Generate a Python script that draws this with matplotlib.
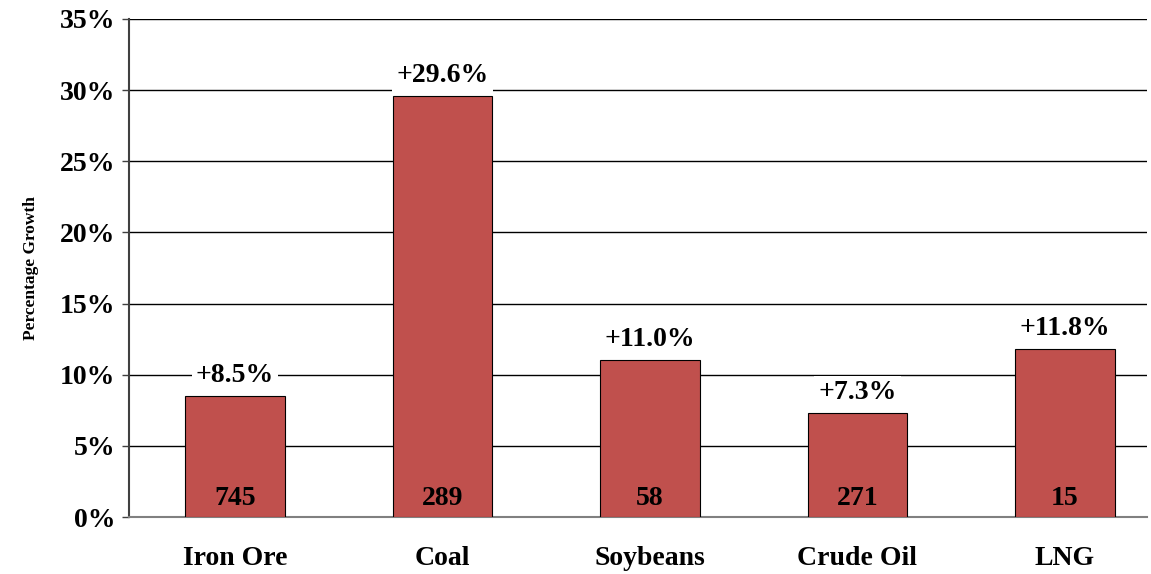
import matplotlib
matplotlib.use('Agg')
import matplotlib.pyplot as plt
from matplotlib.ticker import FuncFormatter

plt.rcParams['font.family'] = ['Liberation Serif', 'DejaVu Serif']
plt.rcParams['font.weight'] = 'bold'

# commodities, growth (%) and volumes shown inside the bars
commodities = ['Iron Ore', 'Coal', 'Soybeans', 'Crude Oil', 'LNG']
growth = [8.5, 29.6, 11.0, 7.3, 11.8]
volumes = [745, 289, 58, 271, 15]

fig = plt.figure(figsize=(11.51, 5.74), dpi=100)
ax = fig.add_axes([0.1121, 0.0993, 0.8844, 0.8676])

x = list(range(len(commodities)))
bars = ax.bar(x, growth, width=0.48, color='#C0504D', edgecolor='black',
              linewidth=0.8, zorder=3)

ax.set_xlim(-0.51, 4.395)
ax.set_ylim(0, 35)
ax.set_yticks(range(0, 36, 5))
ax.yaxis.set_major_formatter(FuncFormatter(lambda v, p: f'{v:.0f}%'))
ax.grid(axis='y', color='black', linewidth=1.0, zorder=0)

for side in ['top', 'right']:
    ax.spines[side].set_visible(False)
ax.spines['left'].set_color('#404040')
ax.spines['left'].set_linewidth(1.5)
ax.spines['bottom'].set_color('#808080')
ax.spines['bottom'].set_linewidth(1.5)

ax.tick_params(axis='y', length=5, width=1, color='#404040', labelsize=20, pad=5)
ax.tick_params(axis='x', length=0, labelsize=20, pad=21)
ax.set_xticks(x)
ax.set_xticklabels(commodities, fontweight='bold')
for lab in ax.get_yticklabels():
    lab.set_fontweight('bold')

ax.set_ylabel('Percentage Growth', fontsize=12.5, fontweight='bold', labelpad=15)

for xi, g, v in zip(x, growth, volumes):
    ax.annotate(f'+{g:.1f}%', (xi, g), xytext=(0, 15), textcoords='offset points',
                ha='center', va='center', fontsize=20, fontweight='bold',
                bbox=dict(facecolor='white', edgecolor='none', pad=3), zorder=4)
    ax.annotate(f'{v}', (xi, 0), xytext=(0, 13.5), textcoords='offset points',
                ha='center', va='center', fontsize=20, fontweight='bold', zorder=4)

fig.savefig('out.png', dpi=100)
